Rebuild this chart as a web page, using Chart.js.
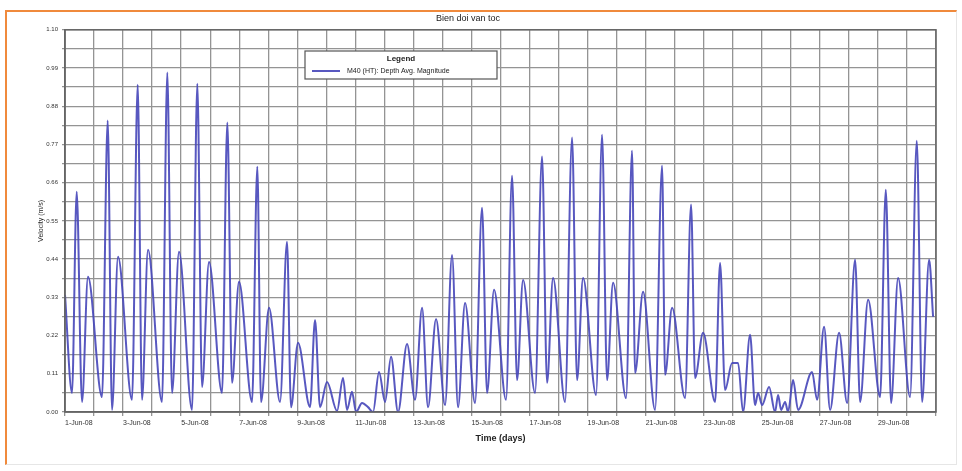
<!DOCTYPE html>
<html>
<head>
<meta charset="utf-8">
<script src="https://cdn.jsdelivr.net/npm/chart.js@4"></script>
<style>
  html, body { margin: 0; padding: 0; background: #fff; }
  #wrap { position: relative; width: 962px; height: 471px; }
  #frame { position: absolute; left: 5px; top: 10px; width: 952px; height: 455px;
           border-top: 2px solid #f08a3c; border-left: 2px solid #f08a3c;
           border-right: 1px solid #e6e6e6; border-bottom: 1px solid #e6e6e6;
           box-sizing: border-box; pointer-events: none; }
</style>
</head>
<body>
<div id="wrap">
  <canvas id="myChart" width="962" height="471"></canvas>
  <div id="frame"></div>
</div>
<script>
// time in days from 1-Jun-08 and depth averaged velocity magnitude (m/s)
const timeDays = [
  0, 0.241, 0.403, 0.586, 0.792, 1.275, 1.471, 1.619, 1.826, 2.308,
  2.504, 2.652, 2.859, 3.341, 3.524, 3.686, 3.927, 4.375, 4.557, 4.719,
  4.960, 5.408, 5.591, 5.753, 5.994, 6.442, 6.624, 6.752, 7.027, 7.406,
  7.647, 7.785, 8.026, 8.440, 8.612, 8.784, 9.025, 9.370, 9.576, 9.714,
  9.886, 10.024, 10.231, 10.437, 10.610, 10.816, 11.023, 11.230, 11.471, 11.781,
  12.056, 12.298, 12.504, 12.780, 13.090, 13.331, 13.538, 13.779, 14.123, 14.364,
  14.537, 14.778, 15.191, 15.398, 15.570, 15.777, 16.190, 16.431, 16.604, 16.810,
  17.224, 17.465, 17.637, 17.844, 18.292, 18.498, 18.670, 18.877, 19.325, 19.531,
  19.635, 19.910, 20.324, 20.565, 20.669, 20.910, 21.357, 21.564, 21.702, 21.977,
  22.391, 22.563, 22.735, 22.976, 23.183, 23.355, 23.596, 23.768, 23.872, 24.010,
  24.251, 24.457, 24.561, 24.664, 24.802, 24.905, 25.077, 25.250, 25.732, 25.904,
  26.145, 26.352, 26.662, 26.938, 27.213, 27.386, 27.661, 28.075, 28.271, 28.453,
  28.694, 29.107, 29.338, 29.521, 29.762, 29.900
];
const velocity = [
  0.337, 0.055, 0.634, 0.029, 0.389, 0.043, 0.839, 0.006, 0.447, 0.035,
  0.942, 0.035, 0.467, 0.029, 0.977, 0.055, 0.461, 0.006, 0.945, 0.072,
  0.432, 0.055, 0.833, 0.084, 0.375, 0.029, 0.706, 0.029, 0.300, 0.029,
  0.490, 0.014, 0.199, 0.014, 0.265, 0.014, 0.086, 0.003, 0.098, 0.006,
  0.058, 0.000, 0.026, 0.014, 0.000, 0.115, 0.029, 0.159, 0.000, 0.196,
  0.035, 0.300, 0.014, 0.268, 0.020, 0.452, 0.014, 0.314, 0.026, 0.588,
  0.055, 0.352, 0.035, 0.680, 0.092, 0.380, 0.055, 0.735, 0.084, 0.386,
  0.029, 0.790, 0.092, 0.386, 0.049, 0.798, 0.092, 0.372, 0.040, 0.752,
  0.112, 0.346, 0.006, 0.709, 0.107, 0.300, 0.040, 0.597, 0.098, 0.228,
  0.029, 0.429, 0.063, 0.141, 0.141, 0.000, 0.222, 0.020, 0.055, 0.020,
  0.072, 0.000, 0.049, 0.006, 0.029, 0.000, 0.092, 0.006, 0.115, 0.035,
  0.245, 0.006, 0.228, 0.026, 0.438, 0.029, 0.323, 0.043, 0.640, 0.026,
  0.386, 0.043, 0.781, 0.029, 0.438, 0.274
];
const xTickLabels = [
  '1-Jun-08', '3-Jun-08', '5-Jun-08', '7-Jun-08', '9-Jun-08', '11-Jun-08',
  '13-Jun-08', '15-Jun-08', '17-Jun-08', '19-Jun-08', '21-Jun-08', '23-Jun-08',
  '25-Jun-08', '27-Jun-08', '29-Jun-08'
];
const yGridValues = [
  0, 0.055, 0.11, 0.165, 0.22, 0.275, 0.33, 0.385, 0.44, 0.495, 0.55,
  0.605, 0.66, 0.715, 0.77, 0.825, 0.88, 0.935, 0.99, 1.045, 1.1
];
const seriesName = 'M40 (HT): Depth Avg. Magnitude';

const lineColor = 'rgba(70, 70, 185, 0.9)';

// frame round the plot area and the legend box
const plotExtras = {
  id: 'plotExtras',
  afterDraw(chart) {
    const { ctx, chartArea: a } = chart;
    ctx.save();
    ctx.strokeStyle = '#666';
    ctx.lineWidth = 1.5;
    ctx.strokeRect(a.left, a.top, a.right - a.left, a.bottom - a.top);

    const bx = 305, by = 51, bw = 192, bh = 28;
    ctx.fillStyle = '#fff';
    ctx.fillRect(bx, by, bw, bh);
    ctx.strokeStyle = '#555';
    ctx.lineWidth = 1.2;
    ctx.strokeRect(bx, by, bw, bh);
    ctx.fillStyle = '#222';
    ctx.font = 'bold 8px Arial, "Liberation Sans", sans-serif';
    ctx.textAlign = 'center';
    ctx.textBaseline = 'middle';
    ctx.fillText('Legend', bx + bw / 2, by + 8);
    ctx.strokeStyle = lineColor;
    ctx.lineWidth = 2;
    ctx.beginPath();
    ctx.moveTo(bx + 7, by + 20);
    ctx.lineTo(bx + 35, by + 20);
    ctx.stroke();
    ctx.font = '7px Arial, "Liberation Sans", sans-serif';
    ctx.textAlign = 'left';
    ctx.fillText(chart.data.datasets[0].label, bx + 42, by + 20);
    ctx.restore();
  }
};

const ctx = document.getElementById('myChart').getContext('2d');
const myChart = new Chart(ctx, {
  type: 'line',
  data: {
    datasets: [{
      label: seriesName,
      data: timeDays.map((t, i) => ({ x: t, y: velocity[i] })),
      borderColor: lineColor,
      borderWidth: 2,
      pointRadius: 0,
      fill: false,
      cubicInterpolationMode: 'monotone'
    }]
  },
  options: {
    responsive: false,
    animation: false,
    layout: { padding: { left: 0, right: 26, top: 0, bottom: 0 } },
    plugins: {
      legend: { display: false },
      tooltip: { enabled: false },
      title: {
        display: true,
        text: 'Bien doi van toc',
        color: '#222',
        font: { size: 9, family: 'Arial, "Liberation Sans", sans-serif', weight: 'normal' },
        padding: { top: 13, bottom: 6 }
      }
    },
    scales: {
      x: {
        type: 'linear',
        min: 0,
        max: 30,
        afterFit(s) { s.height = 59; },
        ticks: {
          stepSize: 1,
          autoSkip: false,
          maxRotation: 0,
          minRotation: 0,
          align: 'start',
          padding: 3,
          color: '#333',
          font: { size: 7, family: 'Arial, "Liberation Sans", sans-serif' },
          callback: v => (v % 2 === 0 ? (xTickLabels[v / 2] || '') : '')
        },
        grid: { color: '#949494', lineWidth: 1.3, tickLength: 4 },
        border: { color: '#666', width: 1.5 },
        title: {
          display: true,
          text: 'Time (days)',
          color: '#222',
          font: { size: 9, weight: 'bold', family: 'Arial, "Liberation Sans", sans-serif' },
          padding: { top: 0, bottom: 27 }
        }
      },
      y: {
        min: 0,
        max: 1.1,
        afterFit(s) { s.width = 65; },
        afterBuildTicks(s) { s.ticks = yGridValues.map(v => ({ value: v })); },
        ticks: {
          padding: 4,
          color: '#333',
          font: { size: 6, family: 'Arial, "Liberation Sans", sans-serif' },
          callback: (v, i) => (i % 2 === 0 ? v.toFixed(2) : '')
        },
        grid: { color: '#949494', lineWidth: 1.3, tickLength: 3 },
        border: { color: '#666', width: 1.5 },
        title: {
          display: true,
          text: 'Velocity (m/s)',
          color: '#222',
          font: { size: 7, family: 'Arial, "Liberation Sans", sans-serif' },
          padding: { top: 37, bottom: 0 }
        }
      }
    }
  },
  plugins: [plotExtras]
});
</script>
</body>
</html>
